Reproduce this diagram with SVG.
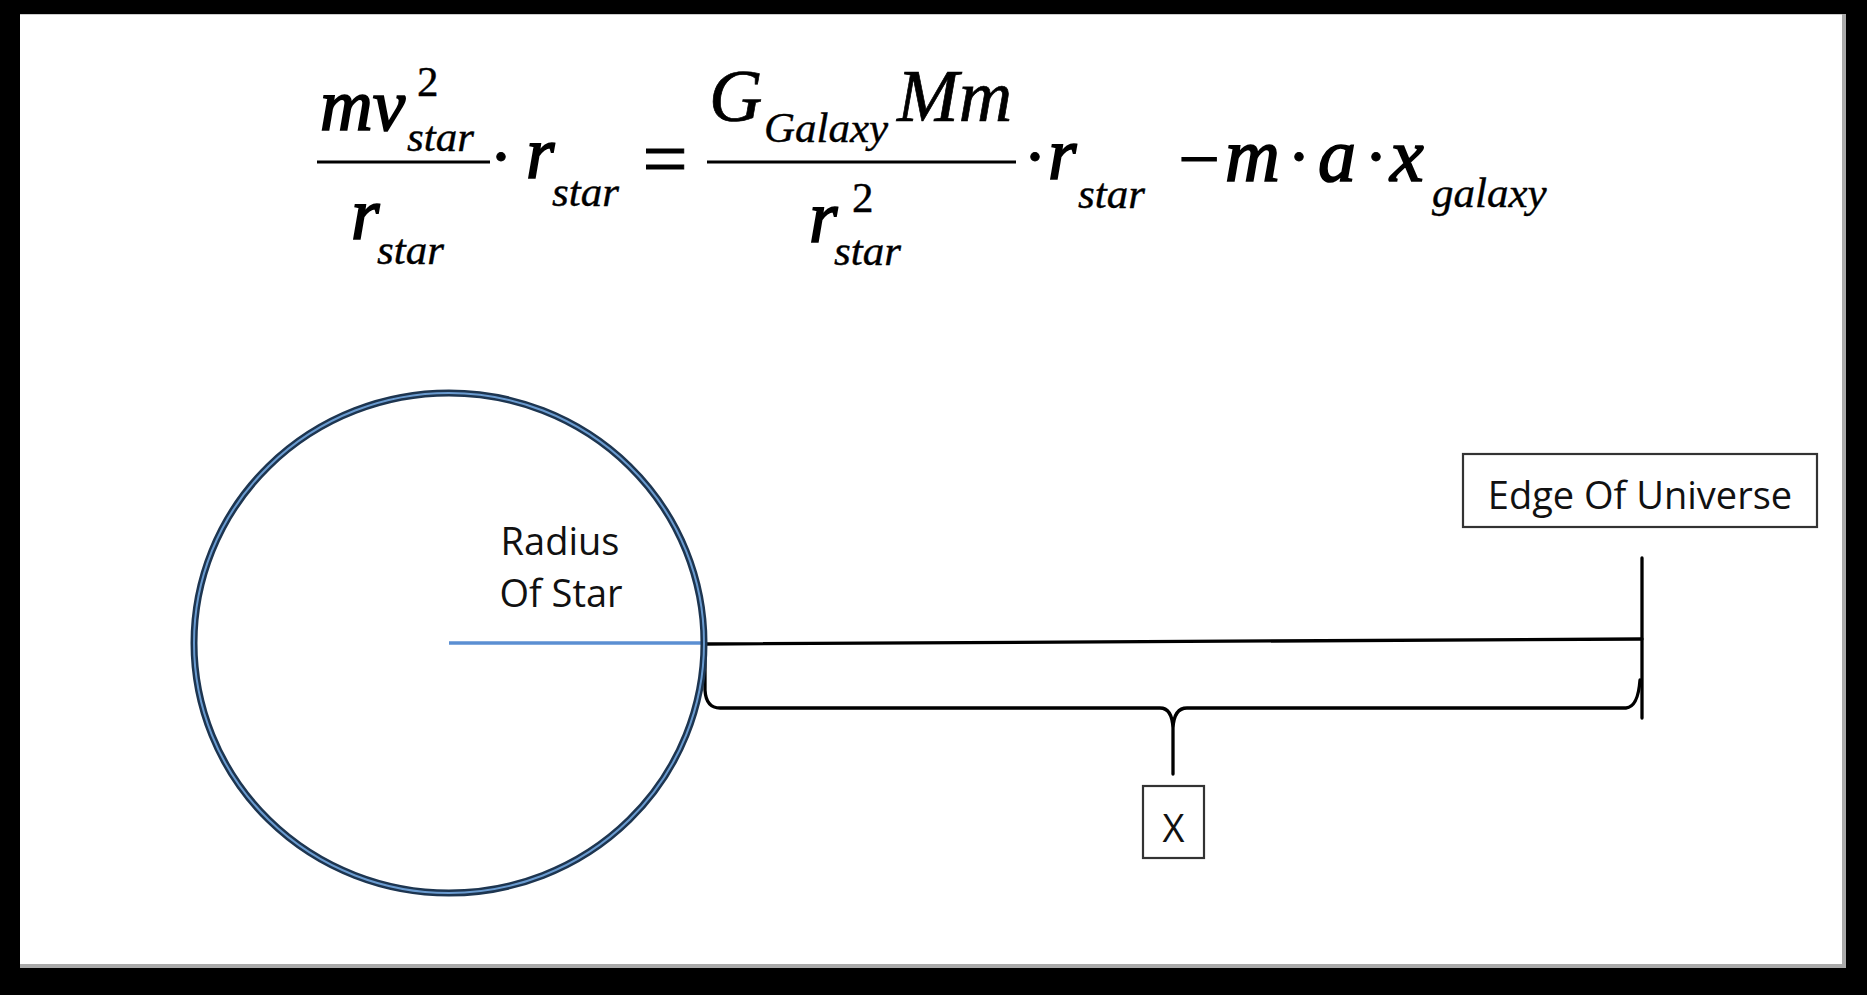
<svg xmlns="http://www.w3.org/2000/svg" width="1867" height="995" viewBox="0 0 1867 995">
<style>
.eq{font-family:"Liberation Serif","Times New Roman",serif;fill:#000;stroke:#000}
.v{font-style:italic;font-size:73px;stroke-width:1.7}
.V{font-style:italic;font-size:74px;stroke-width:0.7}
.sub{font-style:italic;font-size:43px;stroke-width:0.4}
.sup{font-size:43px;stroke-width:0.4}
.op{font-size:72px;stroke-width:1}
.lbl{font-family:"Open Sans","Liberation Sans",sans-serif;font-size:38px;fill:#111}
.box{fill:#fff;stroke:#333;stroke-width:2.2}
.ln{fill:none;stroke:#000;stroke-width:3.3;stroke-linecap:round;stroke-linejoin:round}
</style>
<rect x="0" y="0" width="1867" height="995" fill="#000"/>
<rect x="20" y="14" width="1826" height="954" fill="#aaa"/>
<rect x="20" y="14" width="1822" height="950" fill="#fff"/>
<line x1="20" y1="14.5" x2="1842" y2="14.5" stroke="#ccc" stroke-width="1"/>

<g id="equation" class="eq">
  <text class="v" x="320" y="130">mv</text>
  <text class="sup" x="417" y="96">2</text>
  <text class="sub" x="407" y="151">star</text>
  <line x1="317" y1="162" x2="490" y2="162" stroke-width="3.2"/>
  <text class="v" x="351" y="239">r</text>
  <text class="sub" x="377" y="264">star</text>
  <text class="op" x="501" y="181" text-anchor="middle">·</text>
  <text class="v" x="526" y="178">r</text>
  <text class="sub" x="552" y="206">star</text>
  <text class="op" x="665" y="186" text-anchor="middle" style="font-size:80px">=</text>
  <text class="V" x="709" y="121">G</text>
  <text class="sub" x="764" y="142">Galaxy</text>
  <text class="V" x="897" y="121">Mm</text>
  <line x1="707" y1="162" x2="1016" y2="162" stroke-width="3.2"/>
  <text class="v" x="809" y="242">r</text>
  <text class="sup" x="852" y="212">2</text>
  <text class="sub" x="834" y="265">star</text>
  <text class="op" x="1035" y="181" text-anchor="middle">·</text>
  <text class="v" x="1048" y="179">r</text>
  <text class="sub" x="1078" y="208">star</text>
  <text class="op" x="1199" y="184" text-anchor="middle" style="font-size:74px">−</text>
  <text class="v" x="1225" y="181" style="font-size:76px">m</text>
  <text class="op" x="1299" y="181" text-anchor="middle">·</text>
  <text class="v" x="1318" y="181" style="font-size:76px">a</text>
  <text class="op" x="1376" y="181" text-anchor="middle">·</text>
  <text class="v" x="1390" y="181" style="font-size:76px">x</text>
  <text class="sub" x="1432" y="207">galaxy</text>
</g>

<g id="connectors">
  <line id="radius-line" x1="449" y1="643" x2="704" y2="643" stroke="#5b8fd2" stroke-width="3.5"/>
  <line id="distance-line" class="ln" x1="705" y1="644" x2="1642" y2="639"/>
  <path id="brace" class="ln" d="M705 646 L705 690 Q706 708 720 708 L1160 708 Q1172 708 1173 728 L1173 774 M1173 728 Q1174 708 1187 708 L1626 708 Q1638 707 1640 680"/>
  <line id="edge-line" class="ln" x1="1642" y1="558" x2="1642" y2="718"/>
</g>

<g id="star">
  <ellipse cx="449" cy="643" rx="255" ry="250" fill="none" stroke="#1d3550" stroke-width="7"/>
  <ellipse cx="449" cy="643" rx="255" ry="250" fill="none" stroke="#6a9bd0" stroke-width="2"/>
</g>

<g id="radius-label">
  <text class="lbl" x="560" y="555" text-anchor="middle">Radius</text>
  <text class="lbl" x="561" y="607" text-anchor="middle">Of Star</text>
</g>

<g id="edge-of-universe">
  <rect class="box" x="1463" y="454" width="354" height="73"/>
  <text class="lbl" x="1640" y="509" text-anchor="middle">Edge Of Universe</text>
</g>

<g id="x-label">
  <rect class="box" x="1143" y="786" width="61" height="72"/>
  <text class="lbl" x="1173.5" y="842" text-anchor="middle">X</text>
</g>
</svg>
